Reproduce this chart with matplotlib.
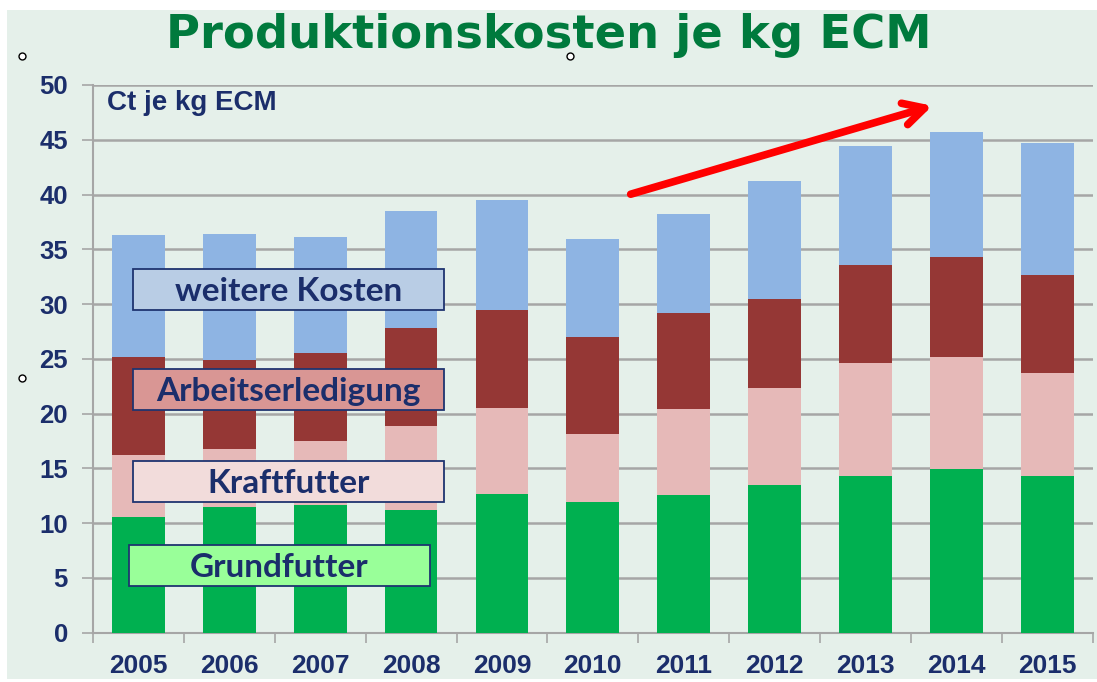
import matplotlib.pyplot as plt
from matplotlib.patches import Rectangle
import numpy as np

# data (Ct je kg ECM)
years = ["2005", "2006", "2007", "2008", "2009", "2010", "2011", "2012", "2013", "2014", "2015"]
grundfutter = [10.6, 11.5, 11.7, 11.2, 12.7, 11.9, 12.6, 13.5, 14.3, 14.9, 14.3]
kraftfutter = [5.6, 5.3, 5.8, 7.7, 7.8, 6.2, 7.8, 8.8, 10.3, 10.3, 9.4]
arbeit = [9.0, 8.1, 8.0, 8.9, 9.0, 8.9, 8.8, 8.2, 9.0, 9.1, 9.0]
weitere = [11.1, 11.5, 10.6, 10.7, 10.0, 8.9, 9.0, 10.7, 10.8, 11.4, 12.0]

yticks = [0, 5, 10, 15, 20, 25, 30, 35, 40, 45, 50]

W, H = 1097, 682
bg = "#e5f0ea"
navy = "#1b2e6b"

fig = plt.figure(figsize=(W / 100, H / 100), dpi=100, facecolor="white")

def fx(px):
    return px / W

def fy(py):
    return 1 - py / H

# slide background panel
fig.patches.append(Rectangle((fx(7), fy(679)), fx(1097) - fx(7), fy(10) - fy(679),
                             transform=fig.transFigure, facecolor=bg, edgecolor="none", zorder=-10))

ax = fig.add_axes([fx(93), fy(632.7), fx(1092.7) - fx(93), fy(85) - fy(632.7)])
ax.set_facecolor(bg)
ax.patch.set_alpha(0)

x = np.arange(len(years))
w = 0.58
b1 = np.array(grundfutter)
b2 = b1 + np.array(kraftfutter)
b3 = b2 + np.array(arbeit)
ax.bar(x, grundfutter, w, color="#00b050", zorder=3)
ax.bar(x, kraftfutter, w, bottom=b1, color="#e6b9b8", zorder=3)
ax.bar(x, arbeit, w, bottom=b2, color="#953735", zorder=3)
ax.bar(x, weitere, w, bottom=b3, color="#8eb4e3", zorder=3)

ax.set_xlim(-0.5, len(years) - 0.5)
ax.set_ylim(0, 50)
ax.set_yticks(yticks)
ax.yaxis.grid(True, color="#a6a6a6", linewidth=1.8, zorder=0)
ax.set_axisbelow(True)
ax.tick_params(axis="y", length=8, width=1.2, color="#a6a6a6", pad=10,
               labelsize=18.5, labelcolor=navy)
ax.set_yticklabels([str(t) for t in yticks], fontweight="bold", family="Liberation Sans")

ax.set_xticks(x)
ax.set_xticklabels(years, fontweight="bold", family="Liberation Sans", fontsize=19, color=navy)
ax.set_xticks(np.arange(-0.5, len(years)), minor=True)
ax.tick_params(axis="x", which="major", length=0, pad=15)
ax.tick_params(axis="x", which="minor", length=7, width=1.2, color="#a6a6a6")

for s in ["top", "right"]:
    ax.spines[s].set_visible(False)
for s in ["left", "bottom"]:
    ax.spines[s].set_color("#a6a6a6")
    ax.spines[s].set_linewidth(1.5)

# unit label
fig.text(fx(107), fy(103), "Ct je kg ECM", fontsize=20, fontweight="bold", color=navy,
         family="Liberation Sans", va="center", ha="left")

# title
fig.text(fx(549), fy(35), "Produktionskosten je kg ECM", fontsize=33.5, fontweight="bold",
         color="#007a3d", family="DejaVu Sans", ha="center", va="center")

# series label boxes
boxes = [
    ("weitere Kosten", 133, 269, 443.6, 310, "#b9cde5"),
    ("Arbeitserledigung", 133, 369, 443.6, 410, "#d99694"),
    ("Kraftfutter", 133, 461, 443.6, 502, "#f2dcdb"),
    ("Grundfutter", 128.6, 545, 430, 586, "#99ff99"),
]
for label, x0, y0, x1, y1, fc in boxes:
    fig.patches.append(Rectangle((fx(x0), fy(y1)), fx(x1) - fx(x0), fy(y0) - fy(y1),
                                 transform=fig.transFigure, facecolor=fc,
                                 edgecolor="#1f3470", linewidth=1.3, zorder=5))
    fig.text(fx((x0 + x1) / 2), fy((y0 + y1) / 2 + 2), label, fontsize=24, fontweight="bold",
             color=navy, family="Lato", ha="center", va="center", zorder=6)

# red trend arrow
ax.annotate("", xy=(fx(935), fy(105)), xycoords="figure fraction",
            xytext=(fx(628), fy(195)), textcoords="figure fraction",
            arrowprops=dict(arrowstyle="->,head_length=1.5,head_width=0.8",
                            color="#ff0000", lw=5.5, capstyle="round"))

# selection handles left over from the slide
for hx, hy in [(22, 56), (570, 56), (22, 378)]:
    fig.add_artist(plt.Line2D([fx(hx)], [fy(hy)], marker="o", markersize=5,
                              markerfacecolor="white", markeredgecolor="black",
                              markeredgewidth=1, transform=fig.transFigure))

fig.savefig("out.png", dpi=100, facecolor="white")
